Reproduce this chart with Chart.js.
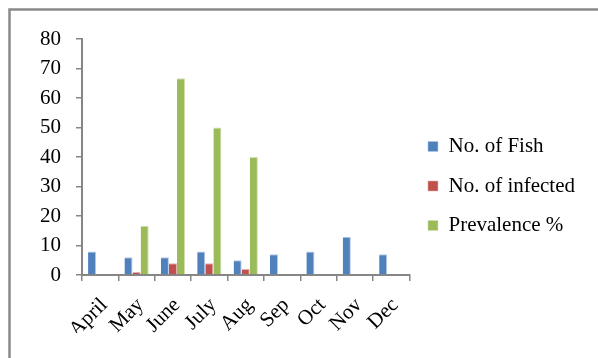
<!DOCTYPE html>
<html>
<head>
<meta charset="utf-8">
<script src="https://cdn.jsdelivr.net/npm/chart.js@4/dist/chart.umd.min.js"></script>
<style>
  html, body { margin: 0; padding: 0; background: #ffffff; }
  #wrap { width: 598px; height: 358px; position: relative; }
</style>
</head>
<body>
<div id="wrap"><canvas id="chart" width="598" height="358"></canvas></div>
<script>
// Monthly sampling results
const months = ['April', 'May', 'June', 'July', 'Aug', 'Sep', 'Oct', 'Nov', 'Dec'];
const fishCount = [8, 6, 6, 8, 5, 7, 8, 13, 7];
const infectedCount = [0, 1, 4, 4, 2, 0, 0, 0, 0];
const prevalence = [0, 16.67, 66.67, 50, 40, 0, 0, 0, 0];
const yTicks = [0, 10, 20, 30, 40, 50, 60, 70, 80];

const seriesNames = ['No. of Fish', 'No. of infected', 'Prevalence %'];
const fills = ['#4F81BD', '#C0504D', '#9BBB59'];
const edges = ['#B7CBE4', '#E2B1B0', '#D1E0B6'];

const serif = "'Liberation Serif', 'Times New Roman', serif";
const textSize = 21;

// Grey frame along the top and left of the canvas
const framePlugin = {
  id: 'frame',
  beforeDraw(chart) {
    const ctx = chart.ctx;
    ctx.save();
    ctx.strokeStyle = '#8a8a8a';
    ctx.lineWidth = 2.5;
    ctx.beginPath();
    ctx.moveTo(9.5, chart.height + 2);
    ctx.lineTo(9.5, 9.5);
    ctx.lineTo(chart.width + 2, 9.5);
    ctx.stroke();
    ctx.restore();
  }
};

const values = [fishCount, infectedCount, prevalence];

new Chart(document.getElementById('chart'), {
  type: 'bar',
  data: {
    labels: months,
    datasets: values.map((v, i) => ({
      label: seriesNames[i],
      data: v,
      backgroundColor: fills[i],
      borderColor: edges[i],
      borderWidth: { top: 1, right: 1, left: 0, bottom: 0 },
      borderSkipped: 'start',
      categoryPercentage: 0.667,
      barPercentage: 1.0
    }))
  },
  options: {
    responsive: false,
    animation: false,
    devicePixelRatio: 1,
    layout: { padding: { top: 39, bottom: 25, left: 20, right: 13 } },
    plugins: {
      tooltip: { enabled: false },
      legend: {
        position: 'right',
        align: 'center',
        maxWidth: 230,
        labels: {
          boxWidth: 10,
          boxHeight: 10,
          padding: 18.5,
          color: '#000000',
          font: { family: serif, size: textSize }
        }
      }
    },
    scales: {
      x: {
        offset: true,
        grid: {
          display: true,
          drawOnChartArea: false,
          drawTicks: true,
          tickLength: 6,
          offset: true,
          color: '#868686',
          lineWidth: 1.5
        },
        border: { display: true, color: '#868686', width: 2 },
        ticks: {
          color: '#000000',
          font: { family: serif, size: textSize },
          minRotation: 45,
          maxRotation: 45,
          padding: 12,
          labelOffset: 4,
          autoSkip: false
        },
        afterFit(scale) { scale.height = 58; }
      },
      y: {
        min: 0,
        max: 80,
        afterBuildTicks(scale) { scale.ticks = yTicks.map(v => ({ value: v })); },
        grid: {
          display: true,
          drawOnChartArea: false,
          drawTicks: true,
          tickLength: 6,
          color: '#868686',
          lineWidth: 1.5
        },
        border: { display: true, color: '#868686', width: 2 },
        ticks: {
          color: '#000000',
          font: { family: serif, size: textSize },
          padding: 15
        },
        afterFit(scale) { scale.width = 62; }
      }
    }
  },
  plugins: [framePlugin]
});
</script>
</body>
</html>
